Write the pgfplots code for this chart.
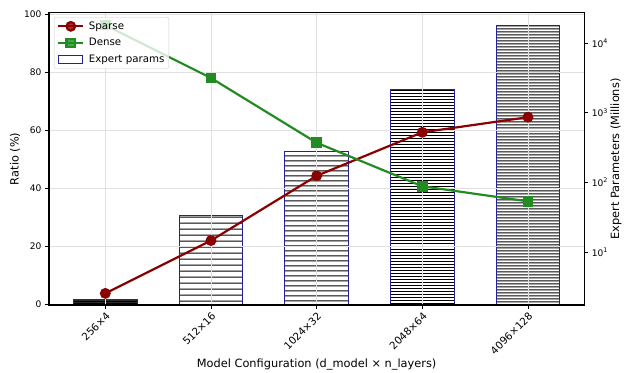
\documentclass[border=0pt]{standalone}
\usepackage{fontspec}
\setmainfont{DejaVu Sans}
\usepackage{pgfplots}
\pgfplotsset{compat=1.18}
\usetikzlibrary{patterns}

\definecolor{sparse}{HTML}{8B0000}
\definecolor{dense}{HTML}{228B22}
\definecolor{edgeblue}{RGB}{35,35,145}

% wide-tile horizontal hatch patterns (form only: colour from pattern color)
\pgfdeclarepatternformonly{hatchA}{\pgfqpoint{0bp}{0bp}}{\pgfqpoint{120bp}{1.6bp}}{\pgfqpoint{120bp}{1.6bp}}%
  {\pgfsetlinewidth{1.1bp}\pgfpathmoveto{\pgfqpoint{-1bp}{0.8bp}}\pgfpathlineto{\pgfqpoint{121bp}{0.8bp}}\pgfusepath{stroke}}
\pgfdeclarepatternformonly{hatchB}{\pgfqpoint{0bp}{0bp}}{\pgfqpoint{120bp}{5.8bp}}{\pgfqpoint{120bp}{5.8bp}}%
  {\pgfsetlinewidth{1bp}\pgfpathmoveto{\pgfqpoint{-1bp}{2.9bp}}\pgfpathlineto{\pgfqpoint{121bp}{2.9bp}}\pgfusepath{stroke}}
\pgfdeclarepatternformonly{hatchC}{\pgfqpoint{0bp}{0bp}}{\pgfqpoint{120bp}{5bp}}{\pgfqpoint{120bp}{5bp}}%
  {\pgfsetlinewidth{1.1bp}\pgfpathmoveto{\pgfqpoint{-1bp}{2.5bp}}\pgfpathlineto{\pgfqpoint{121bp}{2.5bp}}\pgfusepath{stroke}}
\pgfdeclarepatternformonly{hatchD}{\pgfqpoint{0bp}{0bp}}{\pgfqpoint{120bp}{3.4bp}}{\pgfqpoint{120bp}{3.4bp}}%
  {\pgfsetlinewidth{1bp}\pgfpathmoveto{\pgfqpoint{-1bp}{1.7bp}}\pgfpathlineto{\pgfqpoint{121bp}{1.7bp}}\pgfusepath{stroke}}
\pgfdeclarepatternformonly{hatchE}{\pgfqpoint{0bp}{0bp}}{\pgfqpoint{120bp}{2.6bp}}{\pgfqpoint{120bp}{2.6bp}}%
  {\pgfsetlinewidth{1.35bp}\pgfpathmoveto{\pgfqpoint{-1bp}{1.3bp}}\pgfpathlineto{\pgfqpoint{121bp}{1.3bp}}\pgfusepath{stroke}}

\begin{document}
\begin{tikzpicture}
\useasboundingbox (0,0) rectangle (625bp,373bp);
% ---------- right axis: expert parameters (bars, log scale)
\begin{axis}[
  at={(49bp,68bp)}, anchor=south west,
  width=535.3bp, height=292.3bp, scale only axis,
  xmin=-0.533, xmax=4.533,
  ymode=log, log basis y=10, ymin=1.74, ymax=27200,
  axis y line*=right, axis x line=none,
  axis line style={line width=1.1bp},
  tick align=outside,
  major tick length=4bp, minor tick length=2.3bp,
  tick style={black, line width=0.8bp},
  minor tick style={black, line width=0.6bp},
  ytick={10,100,1000,10000},
  yticklabels={10\textsuperscript{1},10\textsuperscript{2},10\textsuperscript{3},10\textsuperscript{4}},
  yticklabel style={font=\fontsize{9.1}{10}\selectfont},
  ylabel={Expert Parameters (Millions)},
  ylabel style={font=\fontsize{11.4}{13}\selectfont, at={(axis description cs:1.059,0.5)}, anchor=center},
  clip=true,
]
\addplot[ybar, bar width=0.6, bar shift=0pt, draw=edgeblue, line width=1bp,
  fill=black!80, postaction={pattern=hatchA, pattern color=black}]
  coordinates {(0,2.1)};
\addplot[ybar, bar width=0.6, bar shift=0pt, draw=edgeblue, line width=1bp,
  pattern=hatchB, pattern color=black]
  coordinates {(1,34)};
\addplot[ybar, bar width=0.6, bar shift=0pt, draw=edgeblue, line width=1bp,
  pattern=hatchC, pattern color=black]
  coordinates {(2,275)};
\addplot[ybar, bar width=0.6, bar shift=0pt, draw=edgeblue, line width=1bp,
  pattern=hatchD, pattern color=black]
  coordinates {(3,2170)};
\addplot[ybar, bar width=0.6, bar shift=0pt, draw=edgeblue, line width=1bp,
  pattern=hatchE, pattern color=black]
  coordinates {(4,17700)};
\end{axis}
% ---------- left axis: ratios (lines)
\begin{axis}[
  at={(49bp,68bp)}, anchor=south west,
  width=535.3bp, height=292.3bp, scale only axis,
  xmin=-0.533, xmax=4.533, ymin=-0.2, ymax=100.5,
  axis line style={line width=1.1bp},
  tick align=outside,
  major tick length=4bp,
  tick style={black, line width=0.8bp},
  xtick={0,1,2,3,4},
  xticklabels={256×4,512×16,1024×32,2048×64,4096×128},
  xtick pos=bottom, ytick pos=left,
  ytick={0,20,40,60,80,100},
  /pgf/number format/assume math mode=true,
  yticklabel style={font=\fontsize{9.1}{10}\selectfont},
  xticklabel style={font=\fontsize{10.3}{12}\selectfont, rotate=45, anchor=north east, inner sep=1.5bp},
  grid=major, grid style={black!12, line width=0.8bp},
  xlabel={Model Configuration (d\_model × n\_layers)},
  xlabel style={font=\fontsize{11.4}{13}\selectfont, at={(axis description cs:0.5,-0.203)}, anchor=center},
  ylabel={Ratio (\%)},
  ylabel style={font=\fontsize{11.4}{13}\selectfont, at={(axis description cs:-0.0635,0.5)}, anchor=center},
  legend image code/.code={\draw[mark repeat=2,mark phase=2,#1] plot coordinates {(0bp,0bp) (12.5bp,0bp) (25bp,0bp)};},
  legend style={at={(axis description cs:0.0093,0.985)}, anchor=north west,
    draw=black!20, rounded corners=2bp, fill=white, fill opacity=0.8, text opacity=1,
    font=\fontsize{10.3}{12}\selectfont, inner xsep=3bp, inner ysep=3bp, row sep=4.6bp,
    column sep=3bp, nodes={inner sep=1.5bp}},
  legend cell align=left,
]
\addplot[color=sparse, line width=2.2bp, mark=*, mark size=4.3bp, mark options={solid}]
  coordinates {(0,3.8) (1,22.0) (2,44.3) (3,59.3) (4,64.5)};
\addlegendentry{Sparse}
\addplot[color=dense, line width=2.2bp, mark=square*, mark size=4.2bp, mark options={solid}]
  coordinates {(0,96.2) (1,78.0) (2,55.7) (3,40.7) (4,35.5)};
\addlegendentry{Dense}
\addlegendimage{legend image code/.code={\draw[sharp corners, draw=edgeblue, fill=white, line width=1bp] (0bp,-4bp) rectangle (24bp,4bp);}}
\addlegendentry{Expert params}
\end{axis}
\end{tikzpicture}
\end{document}
